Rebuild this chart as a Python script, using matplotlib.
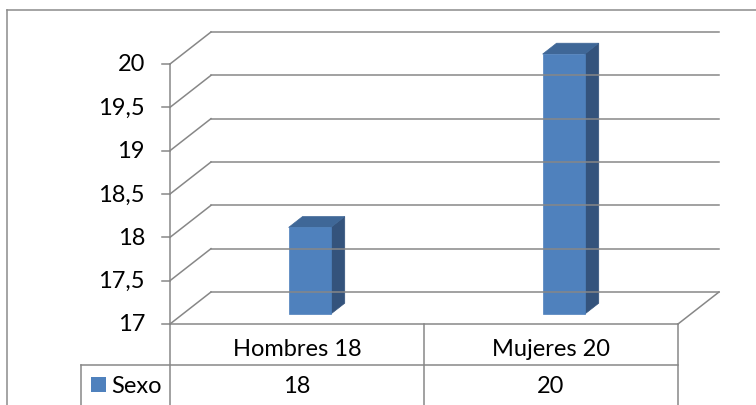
import matplotlib
matplotlib.use("Agg")
import matplotlib.pyplot as plt
from matplotlib.lines import Line2D
from matplotlib.patches import Polygon, Rectangle
from matplotlib.transforms import IdentityTransform

categories = ["Hombres 18", "Mujeres 20"]
series_name = "Sexo"
values = [18, 20]
y_ticks = [17, 17.5, 18, 18.5, 19, 19.5, 20]
tick_labels = ["17", "17,5", "18", "18,5", "19", "19,5", "20"]

W, H = 756, 406
GRID = "#878787"
FRONT = "#4f81bd"
SIDE = "#34537c"
TOP = "#3f6797"
DEPTH = (41, 32)  # pixel offset from front plane to back wall
FS = 17

plt.rcParams["font.family"] = ["Lato", "DejaVu Sans"]

fig = plt.figure(figsize=(W / 100, H / 100), dpi=100)
# front plane of the 3D box
ax = fig.add_axes([170 / W, 1 - 325 / H, 508 / W, 260 / H])
ax.set_xlim(0, len(categories))
ax.set_ylim(y_ticks[0], y_ticks[-1])
ax.axis("off")
pix = IdentityTransform()


def proj(x, y, d=0.0):
    px, py = ax.transData.transform((x, y))
    return px + d * DEPTH[0], py + d * DEPTH[1]


def line(p, q, **kw):
    kw.setdefault("color", GRID)
    kw.setdefault("lw", 1.1)
    fig.add_artist(Line2D([p[0], q[0]], [p[1], q[1]], transform=pix, **kw))


def top(y):
    # measured from the top of the image
    return H - y


# chart area border
line((7, top(11)), (W, top(11)), color="#8c8c8c")
line((7, top(11)), (7, 0), color="#8c8c8c")

n = len(categories)
ymin = y_ticks[0]

# back wall gridlines and side wall diagonals
for v, lab in zip(y_ticks, tick_labels):
    line(proj(0, v, 1), proj(n, v, 1))
    line(proj(0, v, 0), proj(0, v, 1))
    fx, fy = proj(0, v, 0)
    line((fx - 8, fy), (fx, fy))
    fig.text(fx - 25, fy, lab, transform=pix, ha="right", va="center",
             fontsize=FS, color="black")

# front axis + floor
line(proj(0, ymin), proj(0, y_ticks[-1]))
line(proj(0, ymin), proj(n, ymin))
line(proj(n, ymin), proj(n, ymin, 1))

# bars
hw = 0.083
d0, d1 = 0.31, 0.65
for i, v in enumerate(values):
    xc = i + 0.5
    front = [proj(xc - hw, ymin, d0), proj(xc + hw, ymin, d0),
             proj(xc + hw, v, d0), proj(xc - hw, v, d0)]
    side = [proj(xc + hw, ymin, d0), proj(xc + hw, ymin, d1),
            proj(xc + hw, v, d1), proj(xc + hw, v, d0)]
    cap = [proj(xc - hw, v, d0), proj(xc + hw, v, d0),
           proj(xc + hw, v, d1), proj(xc - hw, v, d1)]
    for pts, col in [(side, SIDE), (cap, TOP), (front, FRONT)]:
        fig.add_artist(Polygon(pts, closed=True, transform=pix,
                               facecolor=col, edgecolor=col, lw=0.5))

# data table
row1, row2 = top(325), top(366)
leg_left = 81
x_edges = [proj(i, ymin)[0] for i in range(n + 1)]
line((x_edges[0], row1), (x_edges[0], 0))
for xe in x_edges[1:]:
    line((xe, row1), (xe, 0))
line((leg_left, row2), (x_edges[-1], row2))
line((leg_left, row2), (leg_left, 0))

for i, (cat, v) in enumerate(zip(categories, values)):
    xc = proj(i + 0.5, ymin)[0]
    fig.text(xc, top(350), cat, transform=pix, ha="center",
             va="center", fontsize=FS)
    fig.text(xc, top(387), f"{v}", transform=pix, ha="center",
             va="center", fontsize=FS)

fig.add_artist(Rectangle((91, top(393)), 15, 15, transform=pix,
                         facecolor=FRONT, edgecolor="none"))
fig.text(111, top(387), series_name, transform=pix, ha="left", va="center",
         fontsize=FS)

fig.savefig("out.png", dpi=100)
